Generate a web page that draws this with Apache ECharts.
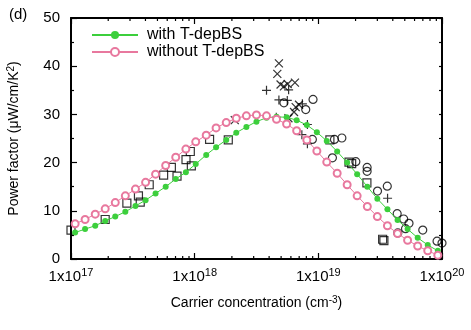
<!DOCTYPE html>
<html>
<head>
<meta charset="utf-8">
<script src="https://cdn.jsdelivr.net/npm/echarts@6/dist/echarts.min.js"></script>
<style>
html, body { margin: 0; padding: 0; background: #fff; }
#main { width: 471px; height: 330px; }
</style>
</head>
<body>
<div id="main"></div>
<script>
// carrier concentration (cm^-3) of the calculated curves
var carrier = [1.08e17, 1.30e17, 1.57e17, 1.89e17, 2.28e17, 2.75e17, 3.32e17, 4.01e17, 4.83e17, 5.83e17,
	7.03e17, 8.49e17, 1.02e18, 1.24e18, 1.49e18, 1.80e18, 2.17e18, 2.62e18, 3.16e18, 3.81e18,
	4.59e18, 5.54e18, 6.68e18, 8.07e18, 9.73e18, 1.17e19, 1.42e19, 1.71e19, 2.06e19, 2.49e19,
	3.00e19, 3.62e19, 4.37e19, 5.27e19, 6.36e19, 7.67e19, 9.25e19];
var withTdep = [5.5, 6.2, 6.9, 7.9, 8.8, 9.8, 11.0, 12.2, 13.6, 15.0,
	16.6, 18.0, 19.7, 21.6, 23.2, 24.7, 26.2, 27.4, 28.5, 29.3,
	29.5, 29.4, 28.8, 27.8, 26.3, 24.5, 22.3, 20.0, 17.6, 15.0,
	12.5, 10.3, 8.1, 6.2, 4.4, 2.9, 1.7];
var withoutTdep = [7.3, 8.2, 9.3, 10.4, 11.7, 13.1, 14.5, 15.9, 17.6, 19.4,
	21.1, 22.8, 24.3, 25.7, 27.2, 28.3, 29.2, 29.7, 29.9, 29.7,
	29.0, 28.0, 26.6, 24.7, 22.4, 20.1, 17.8, 15.4, 13.1, 10.9,
	8.8, 6.9, 5.3, 3.9, 2.7, 1.7, 0.8];

// experimental points [n, PF]
var expSquare = [[1.0e17, 6.0], [1.89e17, 8.2], [2.83e17, 11.6], [3.51e17, 13.1], [3.63e17, 11.8],
	[4.29e17, 15.4], [5.61e17, 17.4], [6.48e17, 19.0], [7.20e17, 17.2], [8.51e17, 20.6],
	[9.22e17, 22.3], [9.40e17, 19.3], [1.32e18, 24.8], [1.87e18, 24.7], [1.24e19, 24.7],
	[1.77e19, 20.1], [1.86e19, 19.8], [2.47e19, 15.8], [3.31e19, 4.1], [3.39e19, 3.8]];
var expCross = [[2.11e18, 28.8], [4.80e18, 40.6], [4.66e18, 38.4], [4.95e18, 36.2], [5.27e18, 35.8],
	[5.65e18, 36.3], [6.47e18, 36.6], [6.98e18, 32.0], [6.56e18, 31.5], [6.36e18, 30.5],
	[5.73e18, 29.2]];
var expPlus = [[3.81e18, 35.0], [5.75e18, 35.1], [4.80e18, 33.0], [5.61e18, 32.9], [7.43e18, 32.2],
	[4.57e18, 29.4], [8.16e18, 27.9], [7.36e18, 25.8], [8.16e18, 23.9], [3.63e19, 12.6]];
var expCircle = [[5.27e18, 32.4], [9.06e18, 33.1], [7.91e18, 31.0], [8.95e18, 24.8], [1.30e19, 21.0],
	[1.35e19, 24.8], [1.55e19, 25.1], [2.01e19, 20.2], [2.48e19, 19.0], [2.48e19, 18.2],
	[3.01e19, 14.1], [3.61e19, 15.1], [4.34e19, 9.4], [4.90e19, 8.3], [5.41e19, 7.4],
	[5.07e19, 6.3], [4.39e19, 5.4], [6.99e19, 6.0], [9.12e19, 3.7], [1.0e20, 3.3]];

// minor tick values of the log axis
var xMinor = [2e17, 3e17, 4e17, 5e17, 6e17, 7e17, 8e17, 9e17,
	2e18, 3e18, 4e18, 5e18, 6e18, 7e18, 8e18, 9e18,
	2e19, 3e19, 4e19, 5e19, 6e19, 7e19, 8e19, 9e19];

var font = 'Liberation Sans, Arial, sans-serif';
var green = '#3ccf3c';
var pink = '#e8789e';
var supStyle = { fontSize: 10, fontFamily: font, color: '#000', verticalAlign: 'top', padding: [0, 0, 7, 0] };

var chart = echarts.init(document.getElementById('main'));

var option = {
	animation: false,
	title: { text: '(d)', left: 4, top: 2, textStyle: { fontSize: 15, fontWeight: 'normal', color: '#000', fontFamily: font } },
	grid: { left: 71, right: 29, top: 18, bottom: 71, outerBoundsMode: 'none' },
	legend: {
		data: ['with T-depBS', 'without T-depBS'],
		orient: 'vertical', left: 86, top: 22,
		itemWidth: 46, itemHeight: 10, itemGap: 1,
		textStyle: { fontSize: 16, fontFamily: font, color: '#000', padding: [0, 0, 0, 4] }
	},
	xAxis: [{
		type: 'log', logBase: 10, min: 1e17, max: 1e20, position: 'bottom',
		name: 'Carrier concentration (cm{sup|-3})', nameLocation: 'middle', nameGap: 36,
		nameTextStyle: { color: '#000', fontFamily: font, fontSize: 14, rich: { sup: supStyle } },
		axisLine: { show: true, onZero: false, lineStyle: { color: '#000', width: 2 } },
		axisTick: { show: true, inside: true, length: 6, lineStyle: { color: '#000', width: 1.2 } },
		axisLabel: {
			show: true, margin: 8, color: '#000', fontFamily: font, fontSize: 15,
			formatter: function (v) { return '1x10{sup|' + Math.round(Math.log10(v)) + '}'; },
			rich: { sup: { fontSize: 11, fontFamily: font, color: '#000', verticalAlign: 'top', padding: [0, 0, 8, 0] } }
		},
		splitLine: { show: false }
	}, {
		type: 'log', logBase: 10, min: 1e17, max: 1e20, position: 'top',
		axisLine: { show: true, onZero: false, lineStyle: { color: '#000', width: 2 } },
		axisTick: { show: true, inside: true, length: 6, lineStyle: { color: '#000', width: 1.2 } },
		axisLabel: { show: false },
		splitLine: { show: false }
	}],
	yAxis: [{
		type: 'value', min: 0, max: 50, interval: 10, position: 'left',
		name: 'Power factor (μW/cm/K{sup|2})', nameLocation: 'middle', nameGap: 48,
		nameTextStyle: { color: '#000', fontFamily: font, fontSize: 14, rich: { sup: supStyle } },
		axisLine: { show: true, onZero: false, lineStyle: { color: '#000', width: 2 } },
		axisTick: { show: true, inside: true, length: 6, lineStyle: { color: '#000', width: 1.2 } },
		minorTick: { show: true, splitNumber: 2, length: 3, lineStyle: { color: '#000', width: 1.2 } },
		axisLabel: { color: '#000', fontFamily: font, fontSize: 15, margin: 11 },
		splitLine: { show: false }
	}, {
		type: 'value', min: 0, max: 50, interval: 5, position: 'right',
		axisLine: { show: true, onZero: false, lineStyle: { color: '#000', width: 2 } },
		axisTick: { show: true, inside: true, length: 3, lineStyle: { color: '#000', width: 1.2 } },
		axisLabel: { show: false },
		splitLine: { show: false }
	}],
	series: [{
		// minor ticks of the log axis, bottom and top
		name: 'minorTicks', type: 'custom', silent: true,
		data: xMinor.map(function (v) { return [v, 0]; }),
		renderItem: function (params, api) {
			var b = api.coord([api.value(0), 0]);
			var t = api.coord([api.value(0), 50]);
			var st = { stroke: '#000', lineWidth: 1.2 };
			return { type: 'group', children: [
				{ type: 'line', shape: { x1: b[0], y1: b[1], x2: b[0], y2: b[1] - 3 }, style: st },
				{ type: 'line', shape: { x1: t[0], y1: t[1], x2: t[0], y2: t[1] + 3 }, style: st }
			] };
		}
	}, {
		name: 'with T-depBS', type: 'line',
		data: carrier.map(function (n, i) { return [n, withTdep[i]]; }),
		symbol: 'circle', symbolSize: 6,
		lineStyle: { color: green, width: 1 },
		itemStyle: { color: green }
	}, {
		name: 'without T-depBS', type: 'line',
		data: carrier.map(function (n, i) { return [n, withoutTdep[i]]; }),
		symbol: 'emptyCircle', symbolSize: 7,
		lineStyle: { color: pink, width: 1 },
		itemStyle: { color: pink, borderColor: pink, borderWidth: 1 }
	}, {
		name: 'sq', type: 'scatter', data: expSquare,
		symbol: 'rect', symbolSize: 8,
		itemStyle: { color: 'rgba(255,255,255,0)', borderColor: '#000', borderWidth: 1.2 }
	}, {
		name: 'cross', type: 'scatter', data: expCross,
		symbol: 'path://M0,0L10,10M0,10L10,0', symbolSize: 8,
		itemStyle: { color: 'rgba(0,0,0,0)', borderColor: '#000', borderWidth: 1.2 }
	}, {
		name: 'plus', type: 'scatter', data: expPlus,
		symbol: 'path://M5,0L5,10M0,5L10,5', symbolSize: 9,
		itemStyle: { color: 'rgba(0,0,0,0)', borderColor: '#000', borderWidth: 1.2 }
	}, {
		name: 'circ', type: 'scatter', data: expCircle,
		symbol: 'circle', symbolSize: 8,
		itemStyle: { color: 'rgba(255,255,255,0)', borderColor: '#000', borderWidth: 1.2 }
	}]
};
chart.setOption(option);
</script>
</body>
</html>
